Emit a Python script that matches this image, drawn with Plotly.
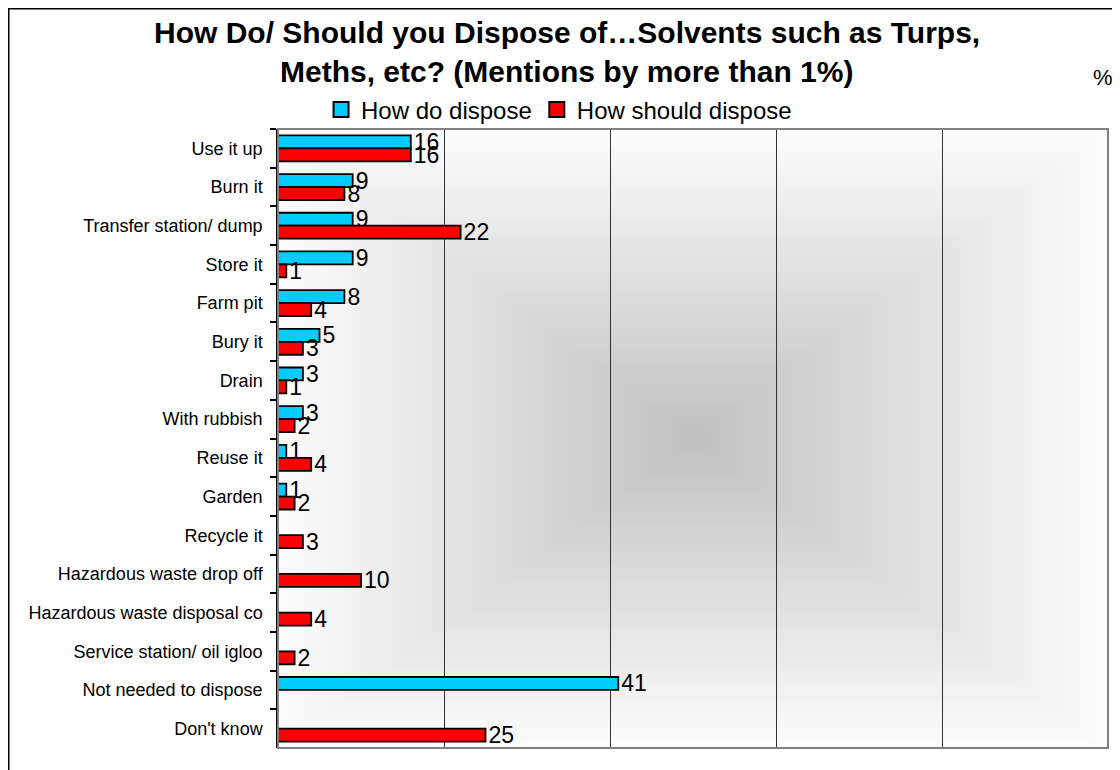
import plotly.graph_objects as go

categories = ["Use it up", "Burn it", "Transfer station/ dump", "Store it", "Farm pit",
              "Bury it", "Drain", "With rubbish", "Reuse it", "Garden", "Recycle it",
              "Hazardous waste drop off", "Hazardous waste disposal co",
              "Service station/ oil igloo", "Not needed to dispose", "Don't know"]
how_do = [16, 9, 9, 9, 8, 5, 3, 3, 1, 1, None, None, None, None, 41, None]
how_should = [16, 8, 22, 1, 4, 3, 1, 2, 4, 2, 3, 10, 4, 2, None, 25]
series_names = ["How do dispose", "How should dispose"]
series_colors = ["#00CCFF", "#FF0000"]
x_ticks = [0, 20, 40, 60, 80, 100]

FONT = "Liberation Sans, Arial, sans-serif"

fig = go.Figure()
for vals, name, col in zip([how_do, how_should], series_names, series_colors):
    fig.add_trace(go.Bar(
        y=categories, x=vals, name=name, orientation="h", showlegend=False,
        marker=dict(color=col, line=dict(color="black", width=1.8)),
        text=vals, textposition="outside", cliponaxis=False, constraintext="none",
        textfont=dict(size=23, color="black", family=FONT),
    ))
# legend entries with larger square keys (no data drawn)
for name, col in zip(series_names, series_colors):
    fig.add_trace(go.Scatter(
        x=[None], y=[None], mode="markers", name=name, showlegend=True,
        marker=dict(symbol="square", size=15, color=col, line=dict(color="black", width=2)),
    ))

# rectangular "from centre" gradient background of the plot area (opaque nested rects)
shapes = []
N = 60
c_edge, c_mid = 252, 192
for k in range(N, 0, -1):
    f = k / N
    g = round(c_mid + (c_edge - c_mid) * f)
    shapes.append(dict(
        type="rect", xref="x domain", yref="y domain",
        x0=0.5 - 0.5 * f, x1=0.5 + 0.5 * f, y0=0.5 - 0.5 * f, y1=0.5 + 0.5 * f,
        fillcolor=f"rgb({g},{g},{g})", line=dict(width=0), layer="below",
    ))
# plot area border (grey)
shapes.append(dict(type="rect", xref="x domain", yref="y domain", x0=0, x1=1, y0=0, y1=1,
                   line=dict(color="#808080", width=2), layer="above"))
# outer chart frame
shapes.append(dict(type="rect", xref="paper", yref="paper", x0=-0.3247, x1=1.3, y0=-0.3, y1=1.1947,
                   line=dict(color="black", width=2), layer="above"))

fig.update_layout(
    width=1120, height=770,
    margin=dict(l=270, r=20, t=121, b=30),
    paper_bgcolor="white", plot_bgcolor="white",
    font=dict(family=FONT, color="black"),
    barmode="group", bargap=0.33, bargroupgap=0,
    showlegend=True,
    legend=dict(orientation="h", x=0.3386, xanchor="center", y=1.0307, yanchor="middle",
                font=dict(size=24, family=FONT), itemwidth=30, traceorder="normal",
                bgcolor="rgba(0,0,0,0)", tracegroupgap=0),
    shapes=shapes,
    annotations=[
        dict(text="<b>How Do/ Should you Dispose of…Solvents such as Turps,</b>",
             xref="paper", yref="paper", x=0.348, y=1.1559, xanchor="center", yanchor="middle",
             showarrow=False, font=dict(size=30, family=FONT)),
        dict(text="<b>Meths, etc? (Mentions by more than 1%)</b>",
             xref="paper", yref="paper", x=0.348, y=1.0926, xanchor="center", yanchor="middle",
             showarrow=False, font=dict(size=30, family=FONT)),
        dict(text="%", xref="paper", yref="paper", x=0.994, y=1.0824, xanchor="center",
             yanchor="middle", showarrow=False, font=dict(size=22, family=FONT)),
    ],
)
fig.update_xaxes(range=[0, 100], tickvals=x_ticks, showticklabels=False, ticks="",
                 showgrid=True, gridcolor="#333333", gridwidth=1, zeroline=False,
                 showline=False)
fig.update_yaxes(autorange="reversed", tickson="boundaries", ticks="outside", ticklen=6,
                 tickcolor="black", tickwidth=1.5, showline=True, linecolor="black", linewidth=1.5,
                 showgrid=False, tickfont=dict(size=18, family=FONT), ticklabelstandoff=10)

fig.write_html("out.html")
